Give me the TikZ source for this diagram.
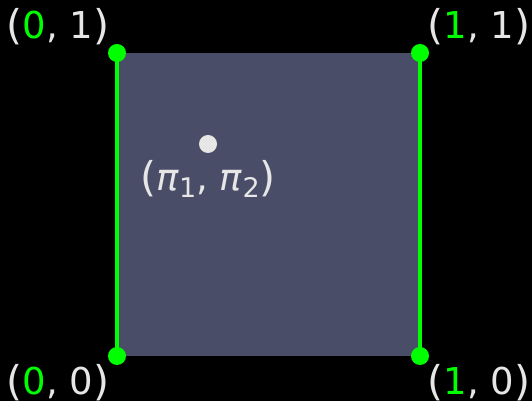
\documentclass[tikz,border=0pt]{standalone}
\usepackage{fontspec}
\setmainfont{DejaVu Sans}
\definecolor{lgreen}{HTML}{00FF00}
\definecolor{txtgray}{HTML}{E6E6E6}
\definecolor{sqfill}{HTML}{4A4D68}
\newcommand{\psub}[1]{\raisebox{-0.2em}{\fontsize{27}{29}\selectfont #1}}
\newcommand{\bigpar}[1]{{\fontsize{41}{44}\selectfont\raisebox{-0.04em}{#1}}}
\begin{document}
\begin{tikzpicture}[x=1pt,y=1pt,
  lbl/.style={text=txtgray,font=\fontsize{37}{42}\selectfont,inner sep=0pt},
  gdot/.style={circle,fill=lgreen,inner sep=0pt,minimum size=18pt},
  wdot/.style={circle,fill=txtgray,inner sep=0pt,minimum size=18pt},
  edge/.style={draw=lgreen,line width=4pt}]
\fill[black] (0,0) rectangle (532,401);
\useasboundingbox (0,0) rectangle (532,401);
\coordinate (p00) at (117,45);
\coordinate (p10) at (420,45);
\coordinate (p01) at (117,348);
\coordinate (p11) at (420,348);
\fill[sqfill] (p00) rectangle (p11);
\draw[edge] (p00) -- (p01);
\draw[edge] (p10) -- (p11);
\node[gdot] (d00) at (p00) {};
\node[gdot] (d10) at (p10) {};
\node[gdot] (d01) at (p01) {};
\node[gdot] (d11) at (p11) {};
\node[wdot] (pt) at (208,257) {};
\node[lbl] (lpt) at (208,222) {\bigpar{(}\textit{π}\psub{1}, \textit{π}\psub{2}\bigpar{)}};
\node[lbl] (l01) at (58,374) {\bigpar{(}\textcolor{lgreen}{0}, 1\bigpar{)}};
\node[lbl] (l11) at (479,374) {\bigpar{(}\textcolor{lgreen}{1}, 1\bigpar{)}};
\node[lbl] (l00) at (58,18) {\bigpar{(}\textcolor{lgreen}{0}, 0\bigpar{)}};
\node[lbl] (l10) at (479,18) {\bigpar{(}\textcolor{lgreen}{1}, 0\bigpar{)}};
\end{tikzpicture}
\end{document}
